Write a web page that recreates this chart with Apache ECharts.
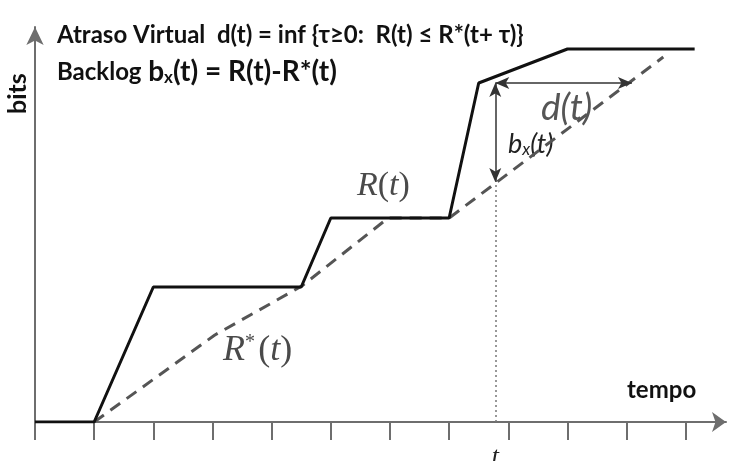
<!DOCTYPE html>
<html>
<head>
<meta charset="utf-8">
<script src="https://cdn.jsdelivr.net/npm/echarts@6/dist/echarts.min.js"></script>
<style>
  html, body { margin: 0; padding: 0; background: #ffffff; }
  #chart { width: 733px; height: 461px; }
</style>
</head>
<body>
<div id="chart"></div>
<script>
// Cumulative arrival curve R(t): time (tick units) and bits
const rTime = [0, 1, 2, 4.5, 5, 7, 7.5, 9, 11.15];
const rBits = [0, 0, 33.75, 33.75, 51, 51, 84.75, 93.25, 93.25];

// Departure curve R*(t)
const rStarTime = [1, 3.04, 4.51, 5.97, 7, 10.62];
const rStarBits = [0, 21.75, 34, 51, 51, 91.25];

// Time-axis tick positions
const tickValues = [0, 1, 2, 3, 4, 5, 6, 7, 8, 9, 10, 11];

// Observation instant t, backlog b_x(t) span and virtual delay d(t) end
const tInstant = 7.78;
const backlogTop = 84.75;
const backlogBottom = 60;
const delayEnd = 10.09;

const xMax = 11.68;
const yMax = 98.75;

const pair = (xs, ys) => xs.map((x, i) => [x, ys[i]]);

const chart = echarts.init(document.getElementById('chart'), null, { renderer: 'canvas' });

const sans = 'Lato, "Open Sans", sans-serif';
const serif = '"Liberation Serif", serif';

chart.setOption({
  backgroundColor: '#ffffff',
  animation: false,
  grid: { left: 35, top: 27, width: 691, height: 395, containLabel: false, outerBoundsMode: 'none' },
  xAxis: {
    type: 'value',
    min: 0,
    max: xMax,
    interval: 1,
    axisLine: {
      show: true,
      onZero: true,
      symbol: ['none', 'arrow'],
      symbolSize: [15, 14],
      lineStyle: { color: '#6e6e6e', width: 2 }
    },
    axisTick: {
      show: true,
      inside: false,
      length: 18,
      customValues: tickValues,
      lineStyle: { color: '#6e6e6e', width: 2 }
    },
    axisLabel: {
      show: true,
      customValues: [tInstant],
      formatter: () => 't',
      margin: 22,
      fontFamily: serif,
      fontStyle: 'italic',
      fontSize: 26,
      color: '#222'
    },
    splitLine: { show: false }
  },
  yAxis: {
    type: 'value',
    min: 0,
    max: yMax,
    axisLine: {
      show: true,
      symbol: ['none', 'arrow'],
      symbolSize: [13, 18],
      lineStyle: { color: '#6e6e6e', width: 2 }
    },
    axisTick: { show: false },
    axisLabel: { show: false },
    splitLine: { show: false }
  },
  series: [
    {
      name: 'R*(t)',
      type: 'line',
      data: pair(rStarTime, rStarBits),
      showSymbol: false,
      z: 2,
      lineStyle: { color: '#555555', width: 3, type: [12, 8] }
    },
    {
      name: 'R(t)',
      type: 'line',
      data: pair(rTime, rBits),
      showSymbol: false,
      z: 3,
      lineStyle: { color: '#111111', width: 3 },
      markLine: {
        silent: true,
        animation: false,
        label: { show: false },
        data: [
          [
            { coord: [tInstant, 0], symbol: 'none', lineStyle: { type: [2, 3], color: '#777', width: 1.5 } },
            { coord: [tInstant, backlogBottom], symbol: 'none' }
          ],
          [
            { coord: [tInstant, backlogTop], symbol: 'arrow', symbolSize: [9, 14], lineStyle: { type: 'solid', color: '#333', width: 1.5 } },
            { coord: [tInstant, backlogBottom], symbol: 'arrow', symbolSize: [9, 14] }
          ],
          [
            { coord: [tInstant, backlogTop], symbol: 'arrow', symbolSize: [9, 14], lineStyle: { type: 'solid', color: '#333', width: 1.5 } },
            { coord: [delayEnd, backlogTop], symbol: 'arrow', symbolSize: [9, 14] }
          ]
        ]
      }
    }
  ],
  graphic: [
    {
      type: 'text',
      left: 57,
      top: 23,
      style: {
        text: 'Atraso Virtual  d(t) = inf {τ≥0:  R(t) ≤ R*(t+ τ)}',
        font: 'bold 24px ' + sans,
        fill: '#111'
      }
    },
    {
      type: 'text',
      left: 57,
      top: 58,
      style: {
        text: '{a|Backlog}  {b|b}{s|x}{b|(t) = R(t)-R*(t)}',
        fill: '#111',
        rich: {
          a: { font: 'bold 24px ' + sans, fill: '#111' },
          b: { font: 'bold 28px ' + sans, fill: '#111' },
          s: { font: 'bold 17px ' + sans, fill: '#111', verticalAlign: 'bottom' }
        }
      }
    },
    {
      type: 'text',
      x: 5,
      y: 114,
      rotation: Math.PI / 2,
      style: {
        text: 'bits',
        font: 'bold 25px ' + sans,
        fill: '#111'
      }
    },
    {
      type: 'text',
      left: 627,
      top: 378,
      style: {
        text: 'tempo',
        font: 'bold 24px ' + sans,
        fill: '#111'
      }
    },
    {
      type: 'text',
      left: 357,
      top: 169,
      style: {
        text: '{i|R}{n|(}{i|t}{n|)}',
        fill: '#4a4a4a',
        rich: {
          i: { font: 'italic 34px ' + serif, fill: '#4a4a4a' },
          n: { font: '34px ' + serif, fill: '#4a4a4a' }
        }
      }
    },
    {
      type: 'text',
      left: 223,
      top: 333,
      style: {
        text: '{i|R}{sup|*} {n|(}{i|t}{n|)}',
        fill: '#4a4a4a',
        rich: {
          i: { font: 'italic 36px ' + serif, fill: '#4a4a4a' },
          n: { font: '36px ' + serif, fill: '#4a4a4a' },
          sup: { font: '20px ' + serif, fill: '#4a4a4a', verticalAlign: 'top' }
        }
      }
    },
    {
      type: 'text',
      left: 541,
      top: 90,
      style: {
        text: 'd(t)',
        font: 'italic 37px ' + sans,
        fill: '#555'
      }
    },
    {
      type: 'text',
      left: 508,
      top: 131,
      style: {
        text: '{b|b}{s|x}{b|(t)}',
        fill: '#222',
        rich: {
          b: { font: 'italic 27px ' + sans, fill: '#222' },
          s: { font: 'italic 17px ' + sans, fill: '#222', verticalAlign: 'bottom' }
        }
      }
    }
  ]
});
</script>
</body>
</html>
